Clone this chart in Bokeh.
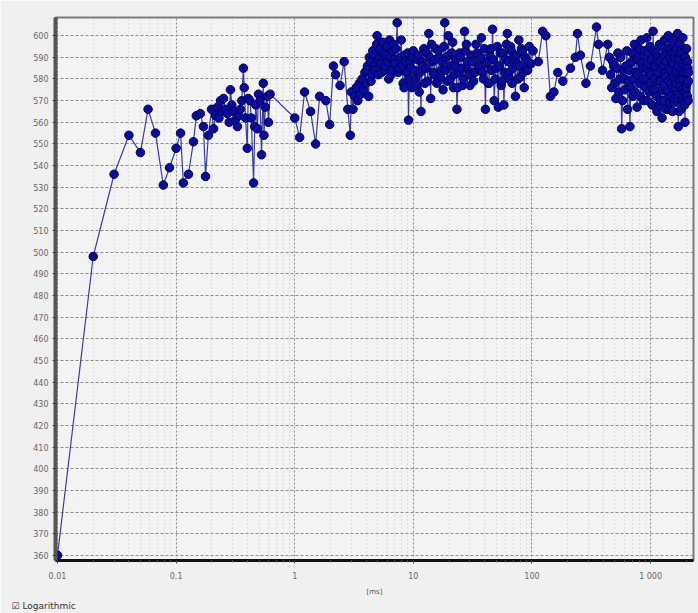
from bokeh.plotting import figure
from bokeh.models import Range1d, FixedTicker, Title
from bokeh.embed import file_html
from bokeh.resources import INLINE

# ---- data ----
x_early = [0.01, 0.02, 0.03, 0.04, 0.05, 0.058, 0.067, 0.078, 0.088, 0.1]
y_early = [360, 498, 536, 554, 546, 566, 555, 531, 539, 548]

x_sub1 = [0.109, 0.115, 0.127, 0.14, 0.148, 0.16, 0.17, 0.177, 0.187, 0.199,
          0.207, 0.215, 0.223, 0.23, 0.237, 0.245, 0.251, 0.26, 0.271, 0.28,
          0.287, 0.295, 0.305, 0.315, 0.329, 0.338, 0.348, 0.358, 0.369, 0.375,
          0.385, 0.398, 0.405, 0.42, 0.43, 0.45, 0.46, 0.47, 0.484, 0.495,
          0.51, 0.525, 0.543, 0.55, 0.565, 0.587, 0.6, 0.62]
y_sub1 = [555, 532, 536, 551, 563, 564, 558, 535, 554, 566,
          557, 563, 567, 562, 570, 565, 571, 566, 564, 560,
          575, 568, 565, 561, 558, 563, 566, 570, 585, 576,
          562, 548, 571, 570, 562, 532, 558, 568, 557, 573,
          570, 545, 578, 554, 567, 572, 560, 573]

x_one = [1.0, 1.1, 1.21, 1.36, 1.5, 1.62, 1.83, 1.97, 2.12, 2.21, 2.41, 2.61, 2.8, 2.94, 3.0]
y_one = [562, 553, 574, 565, 550, 572, 570, 559, 586, 582, 577, 588, 566, 554, 574]

x_mid = [3.1, 3.2, 3.3, 3.4, 3.5, 3.6, 3.7, 3.8, 3.9, 4.0,
         4.1, 4.2, 4.35, 4.5, 4.65, 4.8, 4.95, 5.1, 5.25, 5.4,
         5.6, 5.8, 6.0, 6.2, 6.4, 6.6, 6.8, 7.0, 7.3, 7.6,
         7.9, 8.2, 8.5, 8.8, 9.1, 9.4, 9.7, 10, 10.4, 10.8,
         11.2, 11.6, 12, 12.5, 13, 13.5, 14, 14.5, 15, 15.5,
         16, 16.6, 17.2, 17.8, 18.4, 19, 19.7, 20.4, 21.1, 21.8,
         22.5, 23.3, 24.1, 25, 26, 27, 28, 29, 30, 31.5,
         33, 34.5, 36, 37.5, 39, 40.5, 42, 43.5, 45, 46.5,
         48, 50, 52, 54, 56, 58, 60, 62, 64, 66,
         68, 70, 72.5, 75, 77.5, 80, 83, 86, 89, 92,
         95, 98]
y_mid = [566, 572, 576, 570, 578, 573, 580, 575, 583, 578,
         586, 572, 588, 582, 591, 584, 600, 589, 594, 583,
         592, 586, 595, 580, 590, 584, 596, 587, 606, 585,
         598, 578, 591, 583, 561, 588, 576, 593, 580, 589,
         574, 565, 586, 578, 592, 601, 571, 588, 582, 594,
         579, 590, 584, 575, 606, 590, 600, 580, 592, 576,
         586, 566, 583, 590, 577, 602, 596, 584, 577, 588,
         583, 592, 586, 599, 580, 566, 588, 578, 594, 603,
         570, 585, 567, 592, 579, 568, 589, 601, 583, 595,
         578, 590, 572, 587, 598, 581, 593, 576, 589, 584,
         595, 587]

x_mid_b = [4.05, 4.25, 4.4, 4.55, 4.7, 4.9, 5.05, 5.2, 5.35, 5.5,
           5.7, 5.9, 6.1, 6.3, 6.5, 6.7, 6.9, 7.15, 7.45, 7.75,
           8.05, 8.35, 8.65, 8.95, 9.25, 9.55, 9.85, 10.2, 10.6, 11.0,
           11.4, 11.8, 12.25, 12.75, 13.25, 13.75, 14.25, 14.75, 15.25, 15.75,
           16.3, 16.9, 17.5, 18.1, 18.7, 19.35, 20.05, 20.75, 21.45, 22.15,
           22.9, 23.7, 24.5, 25.5, 26.5, 27.5, 28.5, 29.5, 30.7, 32.2,
           33.7, 35.2, 36.7, 38.2, 39.7, 41.2, 42.7, 44.2, 45.7, 47.2,
           49, 51, 53, 55, 57, 59, 61, 63, 65, 67,
           69, 71, 73.7, 76.2, 78.7, 81.5, 84.5, 87.5, 90.5]
y_mid_b = [584, 590, 579, 593, 586, 596, 582, 590, 587, 597,
           584, 591, 588, 598, 582, 593, 589, 594, 583, 590,
           586, 576, 588, 592, 580, 585, 590, 584, 577, 591,
           583, 588, 594, 585, 579, 590, 596, 583, 589, 578,
           593, 581, 588, 595, 584, 579, 591, 586, 597, 582,
           589, 576, 592, 585, 580, 593, 588, 582, 591, 579,
           596, 585, 590, 583, 594, 587, 578, 591, 584, 589,
           580, 595, 586, 577, 592, 583, 596, 588, 580, 593,
           585, 588, 591, 580, 586, 594, 583, 590, 585]

x_gap = [102, 113, 123, 131, 143, 153, 165, 182, 211, 232, 242, 256, 285, 311, 350, 364, 393, 435]
y_gap = [593, 588, 602, 600, 572, 574, 583, 579, 585, 590, 601, 591, 578, 586, 604, 596, 584, 596]

x_late = [450, 470, 490, 510, 530, 550, 570, 590, 610, 630,
          650, 670, 690, 710, 730, 750, 770, 790, 810, 830,
          850, 870, 890, 910, 930, 950, 970, 990, 1010, 1030,
          1050, 1070, 1090, 1110, 1130, 1150, 1170, 1190, 1210, 1230,
          1250, 1270, 1290, 1310, 1330, 1350, 1370, 1390, 1410, 1430,
          1450, 1470, 1490, 1510, 1530, 1550, 1570, 1590, 1610, 1630,
          1650, 1670, 1690, 1710, 1730, 1750, 1770, 1790, 1810, 1830,
          1850, 1870, 1890, 1910, 1930, 1950, 1970, 1990, 2010, 2030,
          2050, 2070, 2090]
y_late = [590, 576, 586, 571, 592, 580, 557, 584, 575, 593,
          579, 558, 588, 572, 596, 583, 567, 590, 578, 598,
          585, 570, 593, 580, 599, 587, 574, 595, 582, 568,
          602, 586, 575, 592, 565, 588, 579, 596, 570, 585,
          562, 590, 577, 598, 583, 566, 592, 575, 600, 585,
          569, 594, 578, 588, 565, 597, 581, 571, 593, 576,
          600, 584, 601, 558, 590, 573, 596, 580, 566, 592,
          575, 599, 583, 569, 590, 560, 586, 574, 594, 578,
          588, 570, 583]

x_late_b = [460, 480, 500, 520, 540, 560, 580, 600, 620, 640,
            660, 680, 700, 720, 740, 760, 780, 800, 820, 840,
            860, 880, 900, 920, 940, 960, 980, 1000, 1020, 1040,
            1060, 1080, 1100, 1120, 1140, 1160, 1180, 1200, 1220, 1240,
            1260, 1280, 1300, 1320, 1340, 1360, 1380, 1400, 1420, 1440,
            1460, 1480, 1500, 1520, 1540, 1560, 1580, 1600, 1620, 1640,
            1660, 1680, 1700, 1720, 1740, 1760, 1780, 1800, 1820, 1840,
            1860, 1880, 1900, 1920, 1940, 1960, 1980, 2000, 2020, 2040,
            2060, 2080]
y_late_b = [582, 588, 578, 585, 574, 590, 570, 580, 586, 566,
            584, 576, 592, 580, 574, 589, 582, 594, 572, 587,
            580, 591, 576, 585, 570, 592, 583, 578, 589, 575,
            593, 580, 586, 572, 590, 583, 568, 588, 579, 595,
            575, 586, 570, 591, 581, 588, 574, 594, 579, 566,
            590, 584, 572, 592, 576, 587, 569, 590, 583, 578,
            594, 571, 586, 580, 565, 589, 577, 593, 584, 570,
            587, 580, 592, 574, 568, 590, 583, 576, 588, 572,
            585, 579]

x_tick_vals = [0.01, 0.1, 1, 10, 100, 1000]
x_tick_labels = ["0.01", "0.1", "1", "10", "100", "1 000"]
y_tick_vals = list(range(360, 601, 10))
x_label = "[ms]"
checkbox_text = "☑ Logarithmic"

sections = [(x_early, y_early), (x_sub1, y_sub1), (x_one, y_one), (x_mid, y_mid),
            (x_mid_b, y_mid_b), (x_gap, y_gap), (x_late, y_late), (x_late_b, y_late_b)]
pairs = []
for i, (sx, sy) in enumerate(sections):
    assert len(sx) == len(sy), (i, len(sx), len(sy))
    pairs.extend(zip(sx, sy))
pairs.sort(key=lambda t: t[0])
xs = [a for a, _ in pairs]
ys = [b for _, b in pairs]

# ---- figure ----
p = figure(width=698, height=613, x_axis_type="log",
           x_range=Range1d(0.00962, 2300), y_range=Range1d(357.6, 608.4),
           output_backend="svg", toolbar_location=None,
           min_border_left=55, min_border_top=17, min_border_bottom=53, min_border_right=5)

p.border_fill_color = "#f0f0f0"
p.background_fill_color = "#f3f3f3"
p.outline_line_color = "#7a7a7a"
p.outline_line_width = 2

minor_x = []
for d in [0.01, 0.1, 1, 10, 100, 1000]:
    for k in range(2, 10):
        minor_x.append(k * d)
p.xaxis.ticker = FixedTicker(ticks=x_tick_vals, minor_ticks=minor_x)
p.xaxis.major_label_overrides = dict(zip(x_tick_vals, x_tick_labels))
p.yaxis.ticker = FixedTicker(ticks=y_tick_vals, minor_ticks=[v + 5 for v in y_tick_vals])

for ax in (p.xaxis[0], p.yaxis[0]):
    ax.major_label_text_font = "DejaVu Sans"
    ax.major_label_text_font_size = "8px"
    ax.major_label_text_color = "#666666"
    ax.major_tick_line_color = "#444444"
    ax.minor_tick_line_color = "#666666"
    ax.major_tick_in = 0
    ax.major_tick_out = 3
    ax.minor_tick_in = 0
    ax.minor_tick_out = 2

p.yaxis.axis_line_width = 4
p.yaxis.axis_line_color = "#555555"
p.yaxis.major_label_standoff = 4
p.xaxis.axis_line_width = 3
p.xaxis.axis_line_color = "#111111"
p.xaxis.major_label_standoff = 8
p.xaxis.axis_label = x_label
p.xaxis.axis_label_text_font = "DejaVu Sans"
p.xaxis.axis_label_text_font_size = "7px"
p.xaxis.axis_label_text_font_style = "normal"
p.xaxis.axis_label_text_color = "#555555"
p.xaxis.axis_label_standoff = 4

p.xgrid.grid_line_color = "#8c8c8c"
p.xgrid.grid_line_dash = "2 2"
p.xgrid.minor_grid_line_color = "#c8c8c8"
p.xgrid.minor_grid_line_dash = "1 3"
p.ygrid.grid_line_color = "#8c8c8c"
p.ygrid.grid_line_dash = "3 2"

p.line(xs, ys, line_color="#3c3c9c", line_width=1.2)
p.scatter(xs, ys, size=8.5, fill_color="#0c0c9a", line_color="#000060", line_width=1)

p.add_layout(Title(text=checkbox_text, align="left", offset=-44, standoff=0,
                   text_font="DejaVu Sans", text_font_size="9px", text_font_style="normal",
                   text_color="#333333"), "below")

open("out.html", "w").write(file_html(p, INLINE))
